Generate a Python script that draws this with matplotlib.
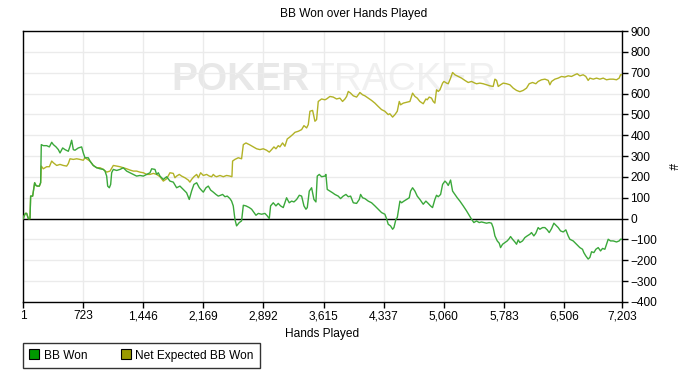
import matplotlib
matplotlib.use("Agg")
import matplotlib.pyplot as plt
from matplotlib.lines import Line2D
from matplotlib.ticker import FuncFormatter

plt.rcParams['font.family'] = ['Liberation Sans', 'DejaVu Sans']

# ---- data (hands played, BB) ----
won_hands = [1, 29, 45, 65, 85, 93, 117, 141, 157, 173, 197, 213, 221, 245, 286, 318, 346, 366, 398, 426,
             446, 478, 506, 546, 566, 586, 606, 626, 666, 706, 726, 746, 786, 806, 846, 887, 927, 967, 987, 1007,
             1019, 1039, 1055, 1067, 1087, 1127, 1167, 1207, 1247, 1287, 1327, 1367, 1407, 1448, 1488, 1528, 1548,
             1588, 1608, 1628, 1648, 1688, 1728, 1768, 1808, 1848, 1888, 1928, 1968, 2000, 2028, 2056, 2089, 2121,
             2149, 2169, 2201, 2229, 2257, 2289, 2321, 2349, 2377, 2401, 2429, 2457, 2489, 2509, 2529, 2549, 2569,
             2601, 2629, 2650, 2682, 2722, 2750, 2778, 2802, 2830, 2870, 2910, 2938, 2962, 2978, 3010, 3042, 3070,
             3098, 3130, 3150, 3170, 3202, 3231, 3259, 3291, 3323, 3351, 3379, 3403, 3419, 3443, 3471, 3499, 3523,
             3539, 3563, 3591, 3631, 3643, 3659, 3691, 3723, 3751, 3791, 3819, 3851, 3884, 3912, 3940, 3972, 4012,
             4044, 4060, 4084, 4112, 4152, 4192, 4232, 4272, 4312, 4352, 4372, 4392, 4420, 4445, 4461, 4485, 4501,
             4533, 4553, 4581, 4613, 4645, 4661, 4685, 4713, 4741, 4773, 4813, 4845, 4873, 4901, 4925, 4953, 4973,
             4994, 5022, 5046, 5074, 5094, 5114, 5142, 5166, 5194, 5222, 5254, 5294, 5334, 5374, 5394, 5422, 5454,
             5486, 5514, 5542, 5574, 5606, 5634, 5654, 5675, 5703, 5727, 5743, 5767, 5795, 5823, 5847, 5863, 5887,
             5915, 5935, 5955, 5975, 6007, 6035, 6063, 6095, 6115, 6143, 6167, 6195, 6215, 6248, 6276, 6304, 6328,
             6356, 6384, 6408, 6436, 6464, 6496, 6528, 6556, 6576, 6616, 6656, 6696, 6728, 6744, 6768, 6796, 6817,
             6837, 6865, 6889, 6917, 6945, 6969, 6997, 7017, 7037, 7065, 7097, 7137, 7169, 7185, 7203]
won_bb = [0, 25, 25, 0, 0, 108, 108, 172, 159, 156, 156, 172, 355, 350, 350, 344, 366, 355, 344, 331,
          315, 339, 331, 323, 347, 376, 331, 328, 339, 344, 315, 292, 292, 276, 255, 244, 239, 236, 228, 204,
          156, 148, 164, 220, 236, 231, 236, 244, 228, 220, 212, 204, 207, 204, 212, 220, 239,
          236, 212, 220, 204, 188, 201, 180, 175, 148, 156, 140, 124, 92, 132, 164, 172, 148,
          135, 127, 148, 156, 137, 127, 116, 108, 112, 116, 105, 108, 96, 84, 61, -3, -35,
          -19, -11, 64, 61, 53, 45, 29, 16, 25, 21, 25, 13, 0, 61, 76, 61, 73,
          61, 53, 76, 100, 76, 84, 80, 92, 112, 108, 61, 45, 53, 132, 148, 92, 80,
          204, 212, 201, 204, 212, 140, 132, 124, 116, 108, 96, 108, 116, 105, 108, 76, 73,
          92, 116, 100, 96, 84, 76, 61, 45, 29, 21, 0, -27, -35, -51, -43, -3, 5,
          84, 76, 84, 92, 100, 132, 148, 132, 108, 92, 69, 84, 73, 61, 53, 92, 112,
          105, 116, 164, 180, 172, 159, 185, 132, 116, 100, 84, 61, 37, 10, -3, -19, -11,
          -19, -16, -19, -22, -19, -22, -43, -83, -107, -118, -139, -123, -115, -107, -96, -86, -99,
          -112, -123, -102, -115, -107, -91, -83, -75, -67, -83, -70, -43, -51, -43, -43, -54, -67,
          -48, -22, -32, -43, -59, -64, -54, -83, -99, -107, -123, -139, -147, -163, -179, -194, -186,
          -159, -163, -147, -139, -155, -143, -147, -123, -99, -107, -107, -112, -107, -99, -99]

exp_hands = [1, 29, 45, 65, 85, 93, 117, 141, 157, 173, 197, 213, 221, 245, 286, 318, 346, 366, 406, 446,
             486, 526, 546, 566, 606, 646, 686, 726, 746, 806, 846, 887, 927, 967, 1007, 1047, 1087, 1127, 1167,
             1207, 1247, 1287, 1327, 1367, 1407, 1448, 1488, 1528, 1568, 1608, 1648, 1688, 1728, 1768, 1808, 1828,
             1848, 1880, 1908, 1948, 1988, 2008, 2028, 2056, 2089, 2109, 2137, 2169, 2209, 2241, 2269, 2289, 2309,
             2329, 2369, 2409, 2449, 2489, 2513, 2521, 2549, 2589, 2629, 2650, 2682, 2722, 2770, 2810, 2850, 2890,
             2930, 2962, 2990, 3018, 3042, 3070, 3090, 3122, 3150, 3178, 3211, 3243, 3271, 3311, 3351, 3379, 3411,
             3431, 3451, 3483, 3511, 3531, 3551, 3591, 3631, 3651, 3691, 3731, 3771, 3811, 3843, 3872, 3892, 3912,
             3940, 3972, 4012, 4052, 4084, 4112, 4152, 4192, 4232, 4272, 4312, 4352, 4372, 4392, 4412, 4445, 4473,
             4501, 4525, 4541, 4573, 4613, 4653, 4685, 4713, 4741, 4773, 4813, 4845, 4861, 4885, 4913, 4933, 4953,
             4973, 4994, 5014, 5046, 5062, 5094, 5114, 5142, 5166, 5194, 5234, 5274, 5314, 5354, 5394, 5434, 5454,
             5494, 5534, 5574, 5614, 5654, 5675, 5695, 5715, 5743, 5775, 5815, 5855, 5895, 5935, 5975, 6015, 6055,
             6087, 6127, 6167, 6195, 6235, 6276, 6316, 6336, 6356, 6396, 6436, 6476, 6516, 6556, 6596, 6636, 6664,
             6696, 6736, 6768, 6796, 6817, 6857, 6897, 6937, 6977, 7017, 7057, 7097, 7137, 7169, 7185, 7203]
exp_bb = [0, 25, 25, 0, 0, 108, 108, 172, 159, 156, 156, 172, 252, 239, 249, 249, 276, 268, 255, 260,
          255, 252, 264, 287, 284, 287, 284, 280, 292, 276, 255, 244, 244, 236, 223, 228, 255, 252, 249,
          244, 239, 233, 228, 228, 223, 220, 212, 212, 217, 212, 201, 180, 191, 220, 217, 196,
          204, 212, 204, 196, 185, 175, 188, 201, 212, 196, 220, 207, 212, 204, 201, 212, 204,
          201, 207, 201, 207, 204, 201, 276, 284, 292, 287, 355, 363, 355, 344, 335, 331, 335,
          328, 319, 331, 344, 335, 350, 344, 363, 347, 382, 392, 403, 414, 419, 427, 446, 435,
          451, 515, 519, 467, 475, 562, 574, 570, 574, 586, 583, 574, 578, 562, 574, 586, 610,
          602, 589, 583, 605, 594, 589, 578, 567, 554, 538, 523, 515, 507, 499, 503, 487, 499,
          515, 562, 546, 554, 558, 562, 602, 586, 578, 562, 551, 574, 570, 583, 578, 562, 554,
          618, 610, 618, 650, 658, 650, 647, 674, 701, 690, 682, 674, 663, 653, 658, 650, 647,
          650, 647, 642, 637, 634, 669, 663, 634, 642, 650, 647, 642, 626, 615, 609, 615, 626,
          647, 653, 647, 658, 666, 669, 663, 642, 658, 669, 674, 682, 679, 685, 682, 690, 695,
          685, 690, 682, 663, 674, 669, 674, 669, 674, 666, 669, 669, 666, 674, 690, 690]

x_ticks = [1, 723, 1446, 2169, 2892, 3615, 4337, 5060, 5783, 6506, 7203]
y_ticks = list(range(-400, 1000, 100))

title = "BB Won over Hands Played"
x_label = "Hands Played"
y_label = "#"
series_names = ["BB Won", "Net Expected BB Won"]
watermark = ("POKER", "TRACKER")

# ---- figure ----
W, H = 692, 387
fig = plt.figure(figsize=(W / 100, H / 100), dpi=100)
ax = fig.add_axes([23 / W, 1 - 302 / H, (622 - 23) / W, (302 - 31) / H])

FS = 8.6
line_green = "#3aa83a"
line_olive = "#b2b226"
leg_green = "#009900"
leg_olive = "#999900"

ax.set_xlim(x_ticks[0], x_ticks[-1])
ax.set_ylim(y_ticks[0], y_ticks[-1])
ax.set_xticks(x_ticks)
ax.set_yticks(y_ticks)
ax.xaxis.set_major_formatter(FuncFormatter(lambda v, p: f"{int(round(v)):,}"))
ax.yaxis.tick_right()
ax.yaxis.set_label_position("right")
ax.tick_params(axis="both", direction="out", length=4, width=1, color="black",
               labelsize=FS, pad=2)
ax.grid(True, color="#ebebeb", linewidth=1)
ax.set_axisbelow(True)
for s in ax.spines.values():
    s.set_color("black")
    s.set_linewidth(1)

# watermark
ax.text(0.479, 0.82, watermark[0], transform=ax.transAxes, ha="right", va="center",
        fontsize=28, fontweight="bold", color="#e8e8e8", zorder=0.5)
ax.text(0.479, 0.82, watermark[1], transform=ax.transAxes, ha="left", va="center",
        fontsize=28, color="#f0f0f0", zorder=0.5)

ax.axhline(0, color="black", linewidth=1, zorder=2)
ax.plot(exp_hands, exp_bb, color=line_olive, linewidth=1, zorder=3)
ax.plot(won_hands, won_bb, color=line_green, linewidth=1, zorder=4)

fig.text(354 / W, 1 - 14 / H, title, ha="center", va="center", fontsize=FS)
ax.set_xlabel(x_label, fontsize=FS, labelpad=4)
ax.set_ylabel(y_label, fontsize=FS, rotation=270, labelpad=10, va="center")

handles = [Line2D([], [], linestyle="none", marker="s", markersize=7, markerfacecolor=leg_green,
                  markeredgecolor="black", markeredgewidth=0.8),
           Line2D([], [], linestyle="none", marker="s", markersize=7, markerfacecolor=leg_olive,
                  markeredgecolor="black", markeredgewidth=0.8)]
leg = fig.legend(handles, series_names, loc="upper left", bbox_to_anchor=(23 / W, 1 - 343 / H),
                 ncol=2, frameon=True, fancybox=False, fontsize=FS, handlelength=0.8,
                 handletextpad=0.4, columnspacing=2.8, borderpad=0.55, borderaxespad=0)
leg.get_frame().set_edgecolor("black")
leg.get_frame().set_linewidth(1)

fig.savefig("out.png", dpi=100, facecolor="white")
